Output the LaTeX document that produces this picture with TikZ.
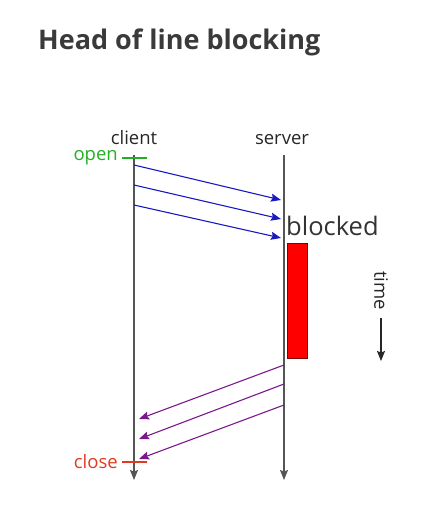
\documentclass[tikz,border=0pt]{standalone}
\usepackage{fontspec}
\setmainfont{Open Sans}
\usetikzlibrary{arrows.meta}
\definecolor{titlegray}{HTML}{3A3A3A}
\definecolor{linegray}{HTML}{555555}
\definecolor{msgblue}{HTML}{1A1AC0}
\definecolor{msgpurple}{HTML}{7A1A8A}
\definecolor{opengreen}{HTML}{22B022}
\definecolor{closered}{HTML}{E03A20}
\tikzset{
  tip/.style={-{Stealth[length=10pt,width=8pt,inset=1.5pt]}},
  lifeline/.style={draw=linegray, line width=1.2pt, tip},
  req/.style={draw=msgblue, line width=1.1pt, tip},
  resp/.style={draw=msgpurple, line width=1.1pt, tip},
  lbl/.style={font=\fontsize{18.5}{22}\selectfont, text=black!85, inner sep=0pt},
}
\begin{document}
\begin{tikzpicture}[x=1pt,y=-1pt]
\useasboundingbox (0,0) rectangle (433,523);
\node[anchor=base west, inner sep=0pt, text=titlegray, font=\fontsize{27}{32}\selectfont\bfseries] (title) at (38,49) {Head of line blocking};
% lifelines
\coordinate (ctop) at (134,155);
\coordinate (cbot) at (134,480);
\coordinate (stop) at (284,155);
\coordinate (sbot) at (284,480);
\draw[lifeline] (ctop) -- (cbot);
\draw[lifeline] (stop) -- (sbot);
\node[lbl, anchor=base] (client) at (134,144) {client};
\node[lbl, anchor=base] (server) at (282,144) {server};
% open / close
\node[lbl, anchor=east, text=opengreen] (open) at (118,158) {open};
\coordinate (o1) at (122,158); \coordinate (o2) at (147,158);
\draw[opengreen, line width=1.2pt] (o1) -- (o2);
\node[lbl, anchor=east, text=closered] (close) at (118,462) {close};
\coordinate (c1) at (122,462); \coordinate (c2) at (147,462);
\draw[closered, line width=1.2pt] (c1) -- (c2);
% requests
\coordinate (r1a) at (134,165); \coordinate (r1b) at (281,200);
\coordinate (r2a) at (134,185); \coordinate (r2b) at (281,219);
\coordinate (r3a) at (134,205); \coordinate (r3b) at (281,238);
\draw[req] (r1a) -- (r1b);
\draw[req] (r2a) -- (r2b);
\draw[req] (r3a) -- (r3b);
% blocked
\node[anchor=west, inner sep=0pt, text=black!80, font=\fontsize{25.5}{30}\selectfont] (blocked) at (286,226) {blocked};
\node[draw=red!50!black, fill=red, line width=0.7pt, minimum width=20pt, minimum height=115pt, inner sep=0pt, anchor=north west] (block) at (287,243) {};
% responses
\coordinate (p1a) at (284,365); \coordinate (p1b) at (139,419);
\coordinate (p2a) at (284,384); \coordinate (p2b) at (139,439);
\coordinate (p3a) at (284,405); \coordinate (p3b) at (139,459);
\draw[resp] (p1a) -- (p1b);
\draw[resp] (p2a) -- (p2b);
\draw[resp] (p3a) -- (p3b);
% time
\node[lbl, rotate=-90, anchor=west] (time) at (381,271) {time};
\coordinate (tend) at (381,361);
\draw[draw=black!85, line width=1.1pt, tip] ([yshift=-8pt]time.east) -- (tend);
\end{tikzpicture}
\end{document}
